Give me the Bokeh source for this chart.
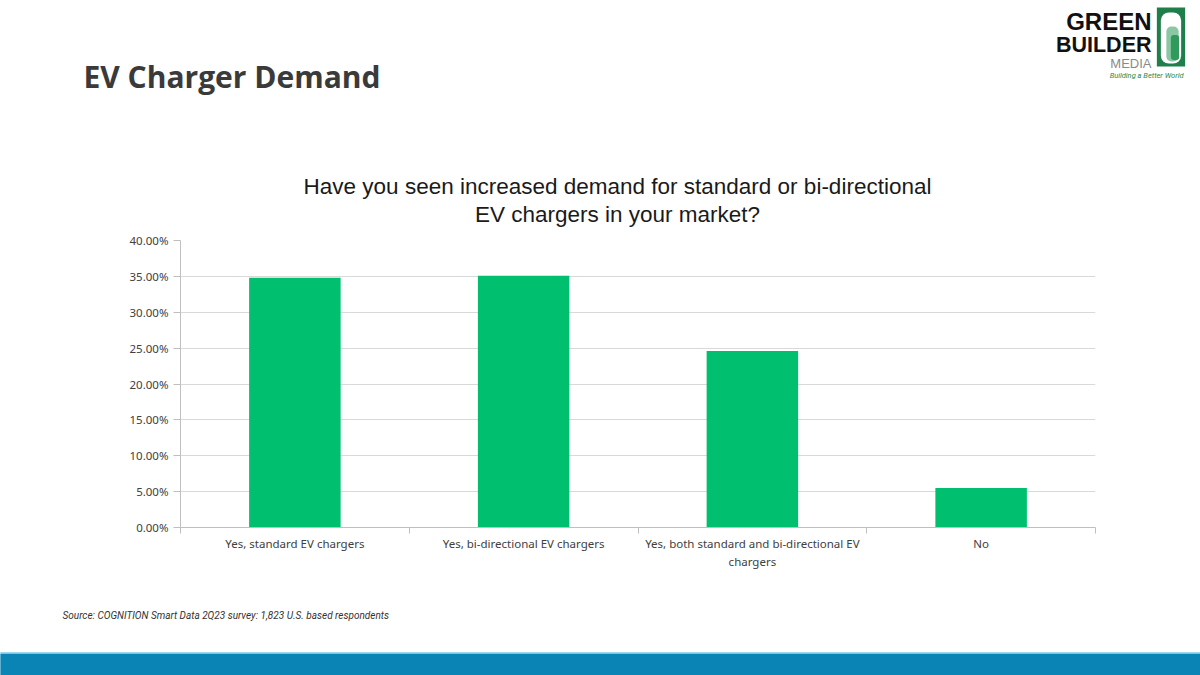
from bokeh.plotting import figure
from bokeh.models import (Range1d, FixedTicker, NumeralTickFormatter, Label, ColumnDataSource)
from bokeh.embed import file_html
from bokeh.resources import INLINE

# ---- data ----
categories = ["Yes, standard EV chargers",
              "Yes, bi-directional EV chargers",
              "Yes, both standard and bi-directional EV\nchargers",
              "No"]
shares = [0.348, 0.351, 0.246, 0.055]
y_ticks = [0.0, 0.05, 0.10, 0.15, 0.20, 0.25, 0.30, 0.35, 0.40]

page_title = "EV Charger Demand"
chart_title = ["Have you seen increased demand for standard or bi-directional",
               "EV chargers in your market?"]
source_note = "Source: COGNITION Smart Data 2Q23 survey: 1,823 U.S. based respondents"

# ---- layout (page pixels) ----
W, H = 1200, 675
FL, FR, FT, FB = 180, 1095, 240, 527   # chart frame edges in page coords

pos = [i + 0.5 for i in range(len(categories))]
src = ColumnDataSource(dict(x=pos, top=shares, cat=categories))

p = figure(width=W, height=H, output_backend="svg", toolbar_location=None,
           x_range=Range1d(0, len(categories)), y_range=Range1d(0, 0.40),
           min_border_left=FL, min_border_right=W - FR,
           min_border_top=FT, min_border_bottom=H - FB)
p.outline_line_color = None
p.background_fill_color = "white"
p.border_fill_color = "white"
# pixel coordinate system for page decorations (data value == page pixel)
p.extra_x_ranges = {"px": Range1d(FL, FR)}
p.extra_y_ranges = {"px": Range1d(FB, FT)}

p.vbar(x="x", top="top", width=0.4, source=src, fill_color="#00BF6F", line_color=None)

xa = p.xaxis[0]
xa.ticker = FixedTicker(ticks=pos, minor_ticks=list(range(len(categories) + 1)))
xa.major_label_overrides = {pos[i]: categories[i] for i in range(len(categories))}
xa.major_tick_line_color = None
xa.major_tick_out = 0
xa.major_tick_in = 0
xa.minor_tick_line_color = "#bfbfbf"
xa.minor_tick_out = 6
xa.minor_tick_in = 0
xa.axis_line_color = "#bfbfbf"
xa.major_label_text_font = "Noto Sans"
xa.major_label_text_font_size = "11.5px"
xa.major_label_text_color = "#404040"
xa.major_label_standoff = 2

ya = p.yaxis[0]
ya.ticker = FixedTicker(ticks=y_ticks)
ya.formatter = NumeralTickFormatter(format="0.00%")
ya.axis_line_color = "#bfbfbf"
ya.major_tick_line_color = "#bfbfbf"
ya.major_tick_out = 7
ya.major_tick_in = 0
ya.minor_tick_line_color = None
ya.major_label_text_font = "Noto Sans"
ya.major_label_text_font_size = "11.5px"
ya.major_label_text_color = "#404040"
ya.major_label_standoff = 5

p.xgrid.grid_line_color = None
p.ygrid.grid_line_color = "#d9d9d9"
p.ygrid.ticker = FixedTicker(ticks=y_ticks)


def lab(panel, **kw):
    kw.setdefault("text_baseline", "middle")
    p.add_layout(Label(x_range_name="px", y_range_name="px", **kw), panel)


def rect(panel, left, top, right, bottom, color, radius=0):
    """A filled box drawn as a label background (side panels are not clipped)."""
    w, h = right - left, bottom - top
    lab(panel, x=(left + right) / 2, y=(top + bottom) / 2, text=" ", text_font_size="1px",
        text_align="center", background_fill_color=color, background_fill_alpha=1.0,
        padding=(int(round(w / 2)), max(int(round((h - 1) / 2)), 0)), border_radius=radius)


# ---- footer band ----
rect("below", 0, 653, W, 676, "#0a84b5")
rect("below", 0, 651, W, 653, "#9ad9ef")

# ---- header ----
lab("above", x=83, y=76, text=page_title, text_font="Open Sans", text_font_style="bold",
    text_font_size="30px", text_color="#3a3a3a", text_align="left")
for i, line in enumerate(chart_title):
    lab("above", x=617, y=186 + 28 * i, text=line, text_font="Liberation Sans",
        text_font_size="22.5px", text_color="#1a1a1a", text_align="center")

# ---- logo ----
rect("right", 1157, 7, 1184, 66, "#1f7f4a")
rect("right", 1161, 12, 1180, 63, "#ffffff", radius=8)
rect("right", 1166, 26, 1178, 61, "#8cc7a3", radius=5)
rect("right", 1171, 34, 1178, 60, "#2f9a5c", radius=3)
lab("above", x=1151, y=21, text="GREEN", text_font="Liberation Sans", text_font_style="bold",
    text_font_size="24px", text_color="#111111", text_align="right")
lab("above", x=1151, y=44, text="BUILDER", text_font="Liberation Sans", text_font_style="bold",
    text_font_size="21.5px", text_color="#111111", text_align="right")
lab("above", x=1151, y=63, text="MEDIA", text_font="Liberation Sans", text_font_size="13px",
    text_color="#8a8a8a", text_align="right")
lab("above", x=1183, y=75, text="Building a Better World", text_font="Roboto",
    text_font_style="italic", text_font_size="7.5px", text_color="#1f8a4c", text_align="right")

# ---- source note ----
lab("below", x=62, y=615, text=source_note, text_font="Roboto", text_font_style="italic",
    text_font_size="10px", text_color="#333333", text_align="left")

open("out.html", "w").write(file_html(p, INLINE))
